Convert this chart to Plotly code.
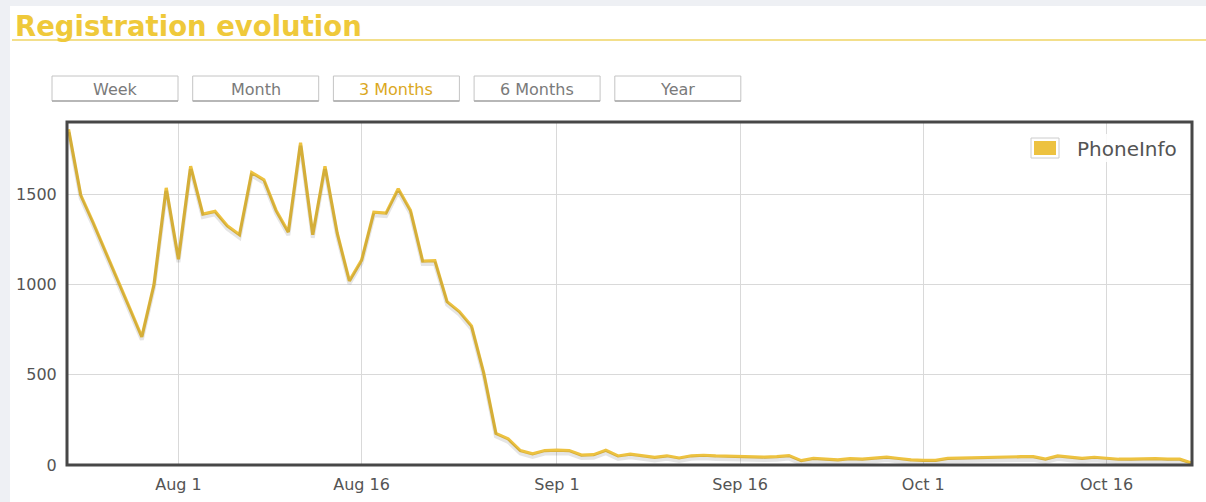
import plotly.graph_objects as go
import pandas as pd

# ---- data ----
start_date = "2010-07-23"
values = [1860, 1495, 1345, 1190, 1030, 870, 710, 1000, 1535, 1140,
          1655, 1390, 1405, 1325, 1275, 1620, 1580, 1410, 1290, 1785,
          1275, 1655, 1285, 1020, 1135, 1400, 1395, 1530, 1410, 1130,
          1132, 905, 850, 770, 510, 175, 145, 80, 62, 80,
          82, 80, 55, 57, 82, 50, 60, 50, 42, 51,
          39, 51, 54, 50, 48, 44, 44, 44, 46, 52,
          24, 37, 33, 28, 35, 33, 38, 44, 36, 28,
          26, 26, 37, 39, 41, 42, 44, 46, 46, 46,
          33, 50, 43, 37, 43, 37, 32, 33, 35, 35,
          33, 32, 10]
dates = pd.date_range(start_date, periods=len(values), freq="D")
series_name = "PhoneInfo"
x_tick_dates = ["2010-08-01", "2010-08-16", "2010-09-01", "2010-09-16", "2010-10-01", "2010-10-16"]
y_ticks = [0, 500, 1000, 1500]
buttons = ["Week", "Month", "3 Months", "6 Months", "Year"]
active_button = "3 Months"
title_text = "Registration evolution"

# ---- layout geometry (pixels) ----
W, H = 1206, 502
L, R, T, B = 67, 1192, 122, 465
Y_MAX = 1900
x_range = ["2010-07-22 21:00", "2010-10-23 00:00"]

def px2x(px):
    return (px - L) / (R - L)

def py2y(py):
    return (B - py) / (B - T)

LINE = "#edc240"
TXT = "#545454"
FONT = "DejaVu Sans"

fig = go.Figure()
shadow_shift = 3 * Y_MAX / (B - T)
fig.add_trace(go.Scatter(x=dates, y=values, mode="lines", yaxis="y2",
                         line=dict(color="rgba(0,0,0,0.10)", width=4),
                         hoverinfo="skip", showlegend=False))
fig.add_trace(go.Scatter(x=dates, y=values, mode="lines", name=series_name,
                         line=dict(color=LINE, width=3.2), showlegend=False))

shapes = []
annotations = []
# page background strip on the left / top
shapes.append(dict(type="rect", xref="paper", yref="paper", x0=px2x(0), x1=px2x(10),
                   y0=py2y(H), y1=py2y(0), fillcolor="#eef0f4", line=dict(width=0), layer="below"))
shapes.append(dict(type="rect", xref="paper", yref="paper", x0=px2x(0), x1=px2x(W),
                   y0=py2y(6), y1=py2y(0), fillcolor="#eef0f4", line=dict(width=0), layer="below"))
# title underline
shapes.append(dict(type="line", xref="paper", yref="paper", x0=px2x(12), x1=px2x(W),
                   y0=py2y(40), y1=py2y(40), line=dict(color="#efd564", width=1.5)))
annotations.append(dict(text="<b>%s</b>" % title_text, xref="paper", yref="paper",
                        x=px2x(13), y=py2y(26), xanchor="left", yanchor="middle",
                        showarrow=False, font=dict(family=FONT, size=27.5, color="#efc93a")))
# range buttons
bx0 = 52
for i, b in enumerate(buttons):
    x0 = bx0 + i * 140.7
    x1 = x0 + 126
    shapes.append(dict(type="rect", xref="paper", yref="paper", x0=px2x(x0), x1=px2x(x1),
                       y0=py2y(101), y1=py2y(76), fillcolor="#ffffff",
                       line=dict(color="#c4c4c4", width=1)))
    shapes.append(dict(type="line", xref="paper", yref="paper", x0=px2x(x0), x1=px2x(x1),
                       y0=py2y(101), y1=py2y(101), line=dict(color="#a9a9a9", width=1.5)))
    annotations.append(dict(text=b, xref="paper", yref="paper", x=px2x((x0 + x1) / 2),
                            y=py2y(90), xanchor="center", yanchor="middle", showarrow=False,
                            font=dict(family=FONT, size=16,
                                      color="#dba81e" if b == active_button else "#7a7a7a")))
# legend
shapes.append(dict(type="rect", xref="paper", yref="paper", x0=px2x(1026), x1=px2x(1187),
                   y0=py2y(162), y1=py2y(134), fillcolor="rgba(255,255,255,0.85)",
                   line=dict(width=0)))
shapes.append(dict(type="rect", xref="paper", yref="paper", x0=px2x(1031), x1=px2x(1059),
                   y0=py2y(158), y1=py2y(138), fillcolor="#ffffff",
                   line=dict(color="#cccccc", width=1)))
shapes.append(dict(type="rect", xref="paper", yref="paper", x0=px2x(1034), x1=px2x(1056),
                   y0=py2y(155), y1=py2y(141), fillcolor=LINE, line=dict(width=0)))
annotations.append(dict(text=series_name, xref="paper", yref="paper", x=px2x(1075),
                        y=py2y(149), xanchor="left", yanchor="middle", showarrow=False,
                        font=dict(family=FONT, size=20, color=TXT)))
# plot border
shapes.append(dict(type="rect", xref="paper", yref="paper", x0=0, x1=1, y0=0, y1=1,
                   line=dict(color="#474747", width=3), layer="above"))

fig.update_layout(
    width=W, height=H, autosize=False,
    margin=dict(l=L, r=W - R, t=T, b=H - B, autoexpand=False),
    paper_bgcolor="#ffffff", plot_bgcolor="#ffffff",
    showlegend=False,
    font=dict(family=FONT, size=16, color=TXT),
    xaxis=dict(type="date", range=x_range, tickvals=x_tick_dates, tickformat="%b %-d",
               showgrid=True, gridcolor="#d9d9d9", gridwidth=1, zeroline=False,
               showline=False, ticks="outside", ticklen=5, tickcolor="rgba(0,0,0,0)",
               tickfont=dict(family=FONT, size=16, color=TXT)),
    yaxis=dict(range=[0, Y_MAX], tickvals=y_ticks, showgrid=True, gridcolor="#d9d9d9",
               gridwidth=1, zeroline=False, showline=False, ticks="outside", ticklen=6,
               tickcolor="rgba(0,0,0,0)", tickfont=dict(family=FONT, size=16, color=TXT)),
    yaxis2=dict(range=[shadow_shift, Y_MAX + shadow_shift], overlaying="y", visible=False),
    shapes=shapes, annotations=annotations,
)

fig.write_html("out.html",
               config={"displayModeBar": False, "responsive": False},
               default_width="%dpx" % W, default_height="%dpx" % H,
               post_script="document.body.style.margin='0';document.body.style.overflow='hidden';")
